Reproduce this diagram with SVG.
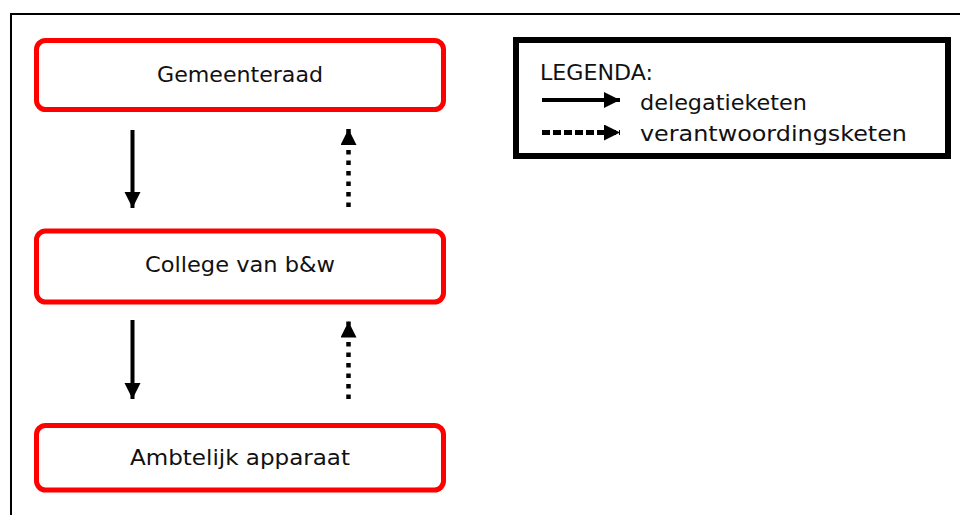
<svg xmlns="http://www.w3.org/2000/svg" width="960" height="515" viewBox="0 0 960 515">
<style>
.node{fill:#fff;stroke:#ff0000;stroke-width:5}
.lbl{font-family:"DejaVu Sans","Liberation Sans",sans-serif;font-size:21px;fill:#111}
.solid{stroke:#000;stroke-width:4;fill:none}
.dot{stroke:#000;stroke-width:4.5;fill:none;stroke-dasharray:4.5 6}
.dotl{stroke:#000;stroke-width:5;fill:none;stroke-dasharray:8 3}
</style>
<defs>
<marker id="ah" markerUnits="userSpaceOnUse" markerWidth="18" markerHeight="18" refX="16" refY="8" orient="auto">
<path d="M0,0 L16,8 L0,16 Z" fill="#000"/>
</marker>
</defs>
<rect width="960" height="515" fill="#fff"/>
<path d="M11,515 V14 H960" fill="none" stroke="#000" stroke-width="2"/>
<g id="gemeenteraad">
<rect class="node" x="36.5" y="40.5" width="407" height="69" rx="9"/>
<text class="lbl" x="240" y="81.5" text-anchor="middle" textLength="166" lengthAdjust="spacingAndGlyphs">Gemeenteraad</text>
</g>
<g id="college">
<rect class="node" x="36.5" y="231" width="407" height="71" rx="9"/>
<text class="lbl" x="240" y="271.5" text-anchor="middle" textLength="190" lengthAdjust="spacingAndGlyphs">College van b&amp;w</text>
</g>
<g id="ambtelijk">
<rect class="node" x="36.5" y="425.5" width="407" height="64.5" rx="9"/>
<text class="lbl" x="240" y="465" text-anchor="middle" textLength="220" lengthAdjust="spacingAndGlyphs">Ambtelijk apparaat</text>
</g>
<g id="legenda">
<rect x="516" y="40" width="432" height="116" fill="#fff" stroke="#000" stroke-width="6"/>
<text class="lbl" x="540" y="80" textLength="113" lengthAdjust="spacingAndGlyphs">LEGENDA:</text>
<line class="solid" x1="542" y1="100" x2="620" y2="100" marker-end="url(#ah)"/>
<text class="lbl" x="640" y="110" textLength="167" lengthAdjust="spacingAndGlyphs">delegatieketen</text>
<line class="dotl" x1="542" y1="132.5" x2="620" y2="132.5" marker-end="url(#ah)"/>
<text class="lbl" x="640" y="141" textLength="267" lengthAdjust="spacingAndGlyphs">verantwoordingsketen</text>
</g>
<g id="connectors">
<line class="solid" x1="132.5" y1="130" x2="132.5" y2="208" marker-end="url(#ah)"/>
<line class="dot" x1="348.5" y1="207" x2="348.5" y2="129" marker-end="url(#ah)"/>
<line class="solid" x1="132.5" y1="320" x2="132.5" y2="399" marker-end="url(#ah)"/>
<line class="dot" x1="348.5" y1="399" x2="348.5" y2="321.5" marker-end="url(#ah)"/>
</g>
</svg>
